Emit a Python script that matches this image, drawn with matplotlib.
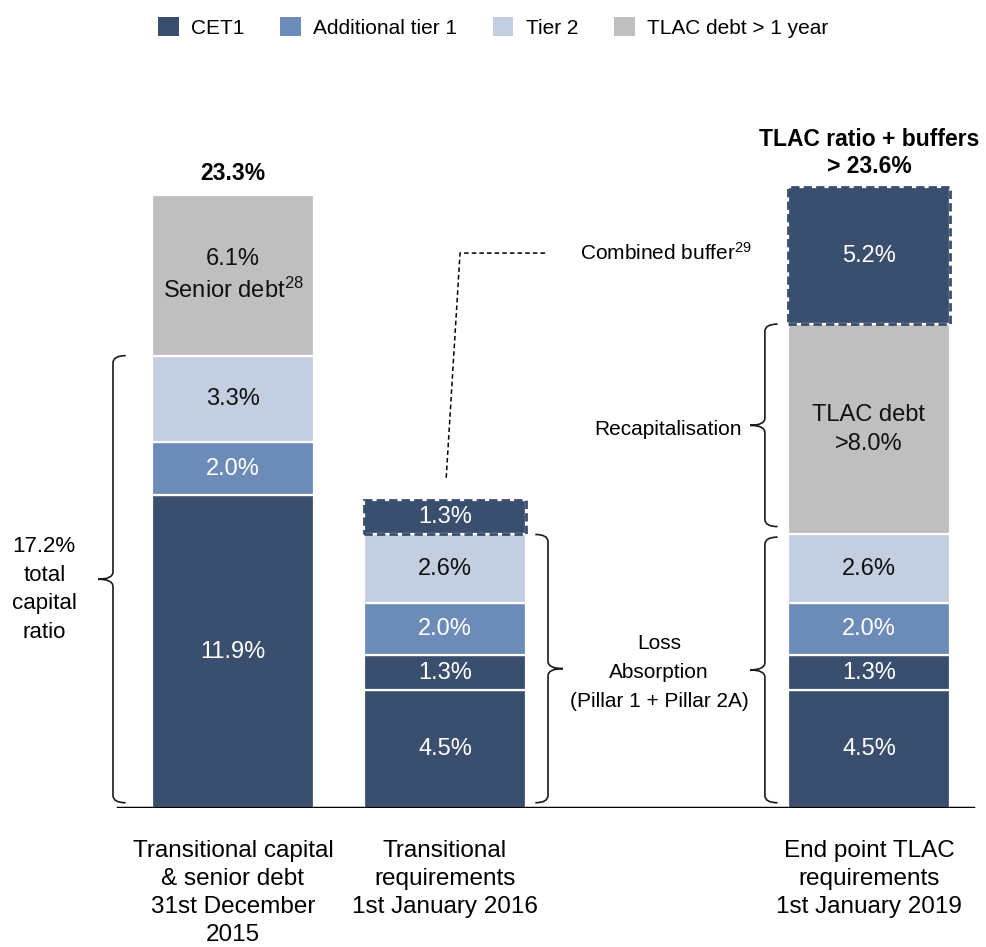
import matplotlib
matplotlib.use('Agg')
import matplotlib.pyplot as plt
from matplotlib.path import Path
from matplotlib.patches import PathPatch, Patch

plt.rcParams['font.family'] = ['Liberation Sans', 'DejaVu Sans']
plt.rcParams['mathtext.fontset'] = 'custom'
plt.rcParams['mathtext.rm'] = 'Liberation Sans'
plt.rcParams['mathtext.it'] = 'Liberation Sans:italic'
plt.rcParams['mathtext.bf'] = 'Liberation Sans:bold'

# ---------------- данные ----------------
categories = [
    'Transitional capital\n& senior debt\n31st December\n2015',
    'Transitional\nrequirements\n1st January 2016',
    'End point TLAC\nrequirements\n1st January 2019',
]
x_pos = [0, 1, 3]

series_names = ['CET1', 'Additional tier 1', 'Tier 2', 'TLAC debt > 1 year']

# сегменты снизу вверх
bar1_values = [11.9, 2.0, 3.3, 6.1]
bar1_series = ['CET1', 'Additional tier 1', 'Tier 2', 'TLAC debt > 1 year']
bar1_labels = ['11.9%', '2.0%', '3.3%', '6.1%\nSenior debt$^{28}$']
bar1_buffer = [False, False, False, False]

bar2_values = [4.5, 1.3, 2.0, 2.6, 1.3]
bar2_series = ['CET1', 'CET1', 'Additional tier 1', 'Tier 2', 'CET1']
bar2_labels = ['4.5%', '1.3%', '2.0%', '2.6%', '1.3%']
bar2_buffer = [False, False, False, False, True]

bar3_values = [4.5, 1.3, 2.0, 2.6, 8.0, 5.2]
bar3_series = ['CET1', 'CET1', 'Additional tier 1', 'Tier 2', 'TLAC debt > 1 year', 'CET1']
bar3_labels = ['4.5%', '1.3%', '2.0%', '2.6%', 'TLAC debt\n>8.0%', '5.2%']
bar3_buffer = [False, False, False, False, False, True]

top_labels = ['23.3%', None, 'TLAC ratio + buffers\n> 23.6%']

colors = {
    'CET1': '#3A4E6D',
    'Additional tier 1': '#6C8BB7',
    'Tier 2': '#C3CEE0',
    'TLAC debt > 1 year': '#BFBFBF',
}
text_colors = {
    'CET1': 'white',
    'Additional tier 1': 'white',
    'Tier 2': '#111111',
    'TLAC debt > 1 year': '#111111',
}

bars = [
    (bar1_values, bar1_series, bar1_labels, bar1_buffer),
    (bar2_values, bar2_series, bar2_labels, bar2_buffer),
    (bar3_values, bar3_series, bar3_labels, bar3_buffer),
]

# ---------------- фигура ----------------
fig = plt.figure(figsize=(9.86, 9.47), dpi=100)
ax = fig.add_axes([0, 139 / 947, 1, 789 / 947])
ax.set_xlim(-1.099, 3.552)
ax.set_ylim(0, 30)
width = 0.765

for xp, (vals, ser, labs, buf), top in zip(x_pos, bars, top_labels):
    bottom = 0
    for v, s, lab, b in zip(vals, ser, labs, buf):
        ax.bar(xp, v, width, bottom=bottom, color=colors[s], edgecolor='white',
               linewidth=1.6, zorder=2)
        if b:
            ax.bar(xp, v, width, bottom=bottom, fill=False, edgecolor=colors[s],
                   linewidth=2, linestyle=(0, (3, 1.5)), zorder=3)
        ax.text(xp, bottom + v / 2, lab, ha='center', va='center', fontsize=17,
                color=text_colors[s], linespacing=1.4, zorder=4)
        bottom += v
    if top:
        ax.annotate(top, (xp, bottom), xytext=(0, 7), textcoords='offset points',
                    ha='center', va='bottom', fontsize=16.5, fontweight='bold',
                    linespacing=1.2)

# базовая линия
ax.axhline(0, xmin=0.12, xmax=0.987, color='black', linewidth=2.5, zorder=5)


# фигурные скобки
def brace(x, y0, y1, side, hook=0.06, tip=0.07, r=0.28):
    ym = (y0 + y1) / 2
    h = hook * side
    t = -tip * side
    verts = [(x + h, y1), (x, y1), (x, y1 - r),
             (x, ym + r), (x, ym), (x + t, ym),
             (x, ym), (x, ym - r),
             (x, y0 + r), (x, y0), (x + h, y0)]
    codes = [Path.MOVETO, Path.CURVE3, Path.CURVE3,
             Path.LINETO, Path.CURVE3, Path.CURVE3,
             Path.CURVE3, Path.CURVE3,
             Path.LINETO, Path.CURVE3, Path.CURVE3]
    ax.add_patch(PathPatch(Path(verts, codes), fill=False, edgecolor='#1a1a1a',
                           linewidth=1.2, zorder=3))


total_capital = sum(bar1_values[:3])
loss_absorption = sum(bar3_values[:4])
recap_top = loss_absorption + bar3_values[4]

brace(-0.566, 0.2, total_capital, +1)
brace(1.486, 0.2, loss_absorption, -1)
brace(2.509, 0.2, loss_absorption - 0.1, +1)
brace(2.509, loss_absorption + 0.3, recap_top, +1)

ax.text(-0.89, total_capital / 2 - 0.3, '17.2%\ntotal\ncapital\nratio', ha='center',
        va='center', fontsize=16, linespacing=1.47)
ax.text(2.01, loss_absorption / 2 - 0.05, 'Loss\nAbsorption\n(Pillar 1 + Pillar 2A)',
        ha='center', va='center', fontsize=15, linespacing=1.65)
ax.text(2.40, (loss_absorption + recap_top) / 2, 'Recapitalisation', ha='right',
        va='center', fontsize=15)

# комбинированный буфер
bar2_top = sum(bar2_values)
ax.plot([1.472, 1.071, 1.005], [21.1, 21.1, bar2_top + 0.75], color='black',
        linewidth=1.1, linestyle=(0, (3, 2)), zorder=3)
ax.text(1.637, 21.1, 'Combined buffer$^{29}$', ha='left', va='center', fontsize=15)

# подписи категорий
ax.set_xticks(x_pos, categories, linespacing=1.36)
ax.tick_params(axis='x', length=0, pad=23, labelsize=17.5)
ax.set_yticks([])
for sp in ax.spines.values():
    sp.set_visible(False)

# легенда
handles = [Patch(facecolor=colors[n], label=n) for n in series_names]
fig.legend(handles=handles, loc='center', bbox_to_anchor=(0.5, 0.971), ncol=4,
           frameon=False, fontsize=15, handlelength=1.0, handleheight=1.0,
           handletextpad=0.6, columnspacing=1.7)

fig.savefig('out.png', dpi=100)
